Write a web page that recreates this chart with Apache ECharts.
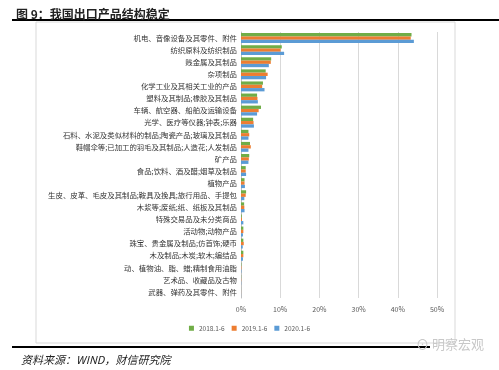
<!DOCTYPE html>
<html><head><meta charset="utf-8">
<script src="https://cdn.jsdelivr.net/npm/echarts@6/dist/echarts.min.js"></script>
<style>html,body{margin:0;padding:0;background:#fff}#c{width:499px;height:370px}</style>
</head><body><div id="c"></div>
<script>
const categories = [
  "机电、音像设备及其零件、附件",
  "纺织原料及纺织制品",
  "贱金属及其制品",
  "杂项制品",
  "化学工业及其相关工业的产品",
  "塑料及其制品;橡胶及其制品",
  "车辆、航空器、船舶及运输设备",
  "光学、医疗等仪器;钟表;乐器",
  "石料、水泥及类似材料的制品;陶瓷产品;玻璃及其制品",
  "鞋帽伞等;已加工的羽毛及其制品;人造花;人发制品",
  "矿产品",
  "食品;饮料、酒及醋;烟草及制品",
  "植物产品",
  "生皮、皮革、毛皮及其制品;鞍具及挽具;旅行用品、手提包",
  "木浆等;废纸;纸、纸板及其制品",
  "特殊交易品及未分类商品",
  "活动物;动物产品",
  "珠宝、贵金属及制品;仿首饰;硬币",
  "木及制品;木炭;软木;编结品",
  "动、植物油、脂、蜡;精制食用油脂",
  "艺术品、收藏品及古物",
  "武器、弹药及其零件、附件"
];
const seriesNames = ["2018.1-6", "2019.1-6", "2020.1-6"];
const s2018 = [43.5, 10.4, 7.7, 6.3, 5.6, 4.1, 5.1, 3.1, 1.9, 2.3, 2.1, 1.2, 0.9, 1.3, 0.8, 0.2, 0.6, 0.6, 0.6, 0.1, 0.05, 0.01];
const s2019 = [43.3, 10.1, 7.6, 6.8, 5.4, 4.2, 4.5, 3.2, 2.1, 2.5, 2.0, 1.2, 0.9, 1.2, 0.85, 0.25, 0.6, 0.7, 0.6, 0.1, 0.05, 0.01];
const s2020 = [44.1, 11.0, 7.1, 6.4, 6.0, 4.3, 4.1, 3.3, 1.9, 1.9, 1.9, 1.3, 1.0, 0.85, 0.9, 0.6, 0.5, 0.45, 0.5, 0.1, 0.05, 0.01];
const xTicks = [0, 10, 20, 30, 40, 50];
const colors = ["#70AD47", "#ED7D31", "#5B9BD5"];

const chart = echarts.init(document.getElementById('c'), null, {renderer: 'canvas'});
const cjk = '"Noto Sans CJK SC", sans-serif';
const mk = (name, data, color) => ({
  name, type: 'bar', data, barGap: '0%', barCategoryGap: '18%',
  itemStyle: {color}, animation: false
});
chart.setOption({
  animation: false,
  title: [{
    text: '图 9：我国出口产品结构稳定', left: 11, top: 3,
    textStyle: {fontSize: 12, fontWeight: 'bold', color: '#222', fontFamily: cjk}
  }, {
    text: '资料来源：WIND，财信研究院', left: 16, top: 349,
    textStyle: {fontSize: 11, fontWeight: 'normal', fontStyle: 'italic', color: '#222', fontFamily: cjk}
  }],
  graphic: [
    {type: 'line', shape: {x1: 12, y1: 20, x2: 499, y2: 20}, style: {stroke: '#000', lineWidth: 2}},
    {type: 'rect', shape: {x: 36, y: 22, width: 419, height: 321}, style: {fill: 'none', stroke: '#d9d9d9', lineWidth: 1}},
    {type: 'line', shape: {x1: 12, y1: 347, x2: 430, y2: 347}, style: {stroke: '#000', lineWidth: 2}},
    {type: 'text', left: 416, top: 338, style: {text: '⊙ 明察宏观', fontSize: 13, fill: '#c8c8c8', fontFamily: cjk}}
  ],
  legend: {
    data: seriesNames, left: 'center', top: 320, itemWidth: 5, itemHeight: 5, itemGap: 7,
    icon: 'rect', textStyle: {fontSize: 6.5, color: '#595959', fontFamily: cjk}
  },
  grid: {left: 241, right: 62, top: 32, bottom: 72, containLabel: false},
  xAxis: {
    type: 'value', min: xTicks[0], max: xTicks[xTicks.length - 1], interval: 10,
    axisLabel: {formatter: '{value}%', fontSize: 7, color: '#595959', margin: 8, fontFamily: cjk},
    splitLine: {lineStyle: {color: '#d9d9d9'}},
    axisLine: {show: false}, axisTick: {show: false}
  },
  yAxis: {
    type: 'category', data: categories, inverse: true,
    axisLabel: {fontSize: 7.4, color: '#333', margin: 4, fontFamily: cjk, interval: 0},
    axisLine: {lineStyle: {color: '#bfbfbf'}}, axisTick: {show: false}
  },
  series: [mk(seriesNames[0], s2018, colors[0]), mk(seriesNames[1], s2019, colors[1]), mk(seriesNames[2], s2020, colors[2])]
});
</script></body></html>
